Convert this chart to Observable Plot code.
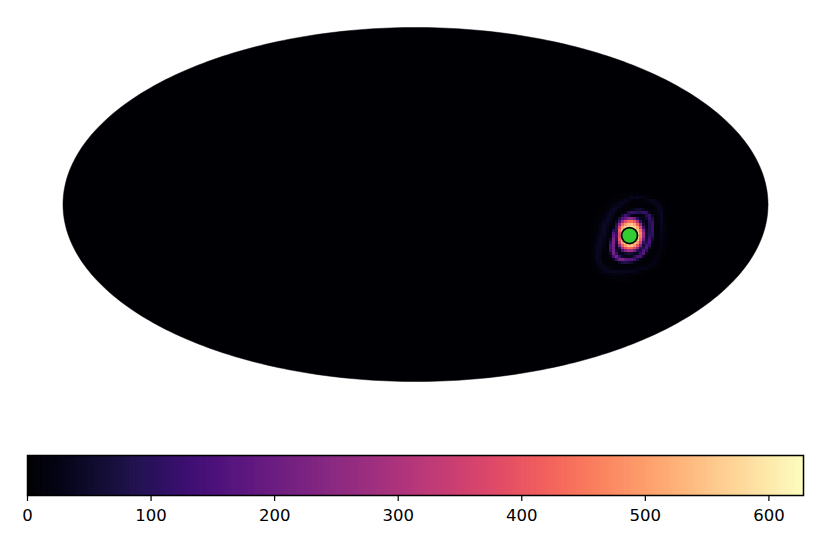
<!DOCTYPE html>
<html><head><meta charset="utf-8">
<script src="https://cdn.jsdelivr.net/npm/d3@7"></script>
<script src="https://cdn.jsdelivr.net/npm/@observablehq/plot@0.6"></script>
<style>html,body{margin:0;padding:0;background:#fff}svg{display:block}</style>
</head><body><div id="chart"></div>
<script>
const colorMax = 628;
const colorTicks = [0,100,200,300,400,500,600];
const sourceLon = [109.3];
const sourceLat = [-15.8];
const patchCols = 26, patchRows = 30;
const patchLon = [89.36,129.2];
const patchLat = [6.1,-39.66];
const patchValues = [
0,0,0,0,0,0,1,3,4,6,5,8,10,14,12,15,11,9,6,5,2,1,0,0,0,0,
0,0,0,0,1,2,3,4,5,9,12,18,22,30,26,34,28,24,18,12,7,3,1,1,0,0,
0,0,0,1,2,3,4,7,11,18,26,34,26,18,12,12,11,16,22,28,36,28,16,6,2,1,
0,0,1,2,3,5,8,13,20,32,38,24,12,7,6,7,6,8,10,14,22,34,30,14,5,2,
0,1,2,3,5,10,18,30,38,32,18,9,6,7,10,12,12,9,7,8,10,20,36,24,8,2,
1,2,3,4,8,16,28,40,34,16,9,10,12,20,35,50,55,38,18,10,8,13,32,30,9,3,
1,2,3,5,12,25,40,36,14,8,12,30,85,125,110,90,95,120,95,35,10,10,28,36,12,4,
2,3,4,8,18,34,40,24,9,10,65,135,90,30,18,14,18,30,85,125,40,9,20,38,14,5,
2,3,5,12,26,40,36,16,8,70,155,190,250,260,210,100,35,25,55,125,75,13,14,38,16,5,
3,4,8,18,34,40,28,12,35,145,280,380,430,440,400,290,110,30,22,100,105,12,13,36,18,6,
4,5,10,24,40,36,18,10,80,260,420,500,540,550,510,420,260,60,20,85,120,12,11,34,18,6,
5,6,12,28,42,32,14,22,120,370,510,560,590,600,570,510,370,130,25,85,125,14,10,32,18,7,
5,8,15,32,42,26,12,90,100,420,540,590,610,615,595,545,440,230,40,85,125,14,10,30,18,8,
7,9,18,34,40,22,10,165,110,390,545,600,615,620,605,560,470,270,55,90,110,14,9,28,18,8,
8,10,20,36,38,18,16,190,120,390,545,600,615,620,605,560,460,260,55,110,95,13,9,26,16,7,
9,12,24,40,34,14,50,220,100,410,535,590,610,610,595,540,420,200,60,140,55,12,10,24,14,6,
10,14,28,40,28,12,100,225,65,350,500,555,590,580,555,500,350,115,90,150,30,10,10,22,12,5,
11,16,32,38,24,11,135,215,42,240,410,500,540,540,500,400,240,60,140,115,16,9,12,20,10,4,
11,20,36,34,18,10,145,205,32,95,290,390,440,430,370,270,95,95,150,55,10,9,15,18,8,3,
10,22,36,30,15,10,115,215,60,38,150,240,290,280,220,95,65,160,100,22,8,11,16,14,6,3,
10,22,38,28,12,10,60,215,125,30,30,50,75,62,38,38,125,170,38,10,8,14,20,12,5,2,
8,20,38,26,10,10,22,145,215,115,42,28,24,36,80,155,150,46,12,8,9,18,20,8,4,2,
6,18,36,28,11,9,12,34,125,215,225,185,165,170,140,70,20,9,8,8,14,22,16,6,3,1,
5,12,30,32,14,9,8,9,16,44,75,85,70,50,25,10,8,7,8,12,20,22,11,4,2,1,
4,8,20,34,24,14,9,7,8,9,11,11,10,9,9,9,10,11,14,20,24,14,6,3,1,0,
2,5,12,26,34,28,20,13,12,12,14,15,16,18,20,22,24,26,24,18,10,4,2,1,0,0,
1,3,6,14,24,34,36,34,30,32,32,36,34,32,28,20,14,10,6,3,2,1,0,0,0,0,
0,2,4,7,10,12,18,22,24,22,22,18,16,12,9,7,5,3,2,1,0,0,0,0,0,0,
0,0,1,2,4,5,7,8,10,9,8,7,5,4,3,2,1,1,0,0,0,0,0,0,0,0,
0,0,0,0,1,2,4,7,10,12,13,11,8,5,3,2,1,0,0,0,0,0,0,0,0,0
];

const colorScale = {type:"linear", scheme:"magma", domain:[0,colorMax]};
const outline = d3.range(0,361,1).map(a => ({x:180*Math.cos(a*Math.PI/180), y:90*Math.sin(a*Math.PI/180)}));

const map = Plot.plot({
  width:830, height:420, margin:0,
  style:{background:"transparent"},
  x:{domain:[-180,180], range:[62.5,767.5], axis:null},
  y:{domain:[-90,90], range:[381,27], axis:null},
  color:colorScale,
  marks:[
    Plot.line(outline,{x:"x",y:"y",fill:"#000004",stroke:"#000004",strokeWidth:0.5}),
    Plot.raster(patchValues,{width:patchCols,height:patchRows,x1:patchLon[0],x2:patchLon[1],y1:patchLat[0],y2:patchLat[1],imageRendering:"pixelated"}),
    Plot.dot(sourceLon.map((x,i)=>({x,y:sourceLat[i]})),{x:"x",y:"y",r:8,fill:"#32cd32",stroke:"black",strokeWidth:1.7})
  ]
});

const steps = d3.range(0,256).map(i => i/256*colorMax);
const bar = Plot.plot({
  width:830, height:134,
  marginTop:35, marginBottom:59, marginLeft:27, marginRight:27,
  style:{background:"transparent", fontFamily:"'DejaVu Sans'", color:"#000"},
  x:{domain:[0,colorMax], axis:null},
  y:{domain:[0,1], axis:null},
  color:colorScale,
  marks:[
    Plot.rect(steps,{x1:d=>d,x2:d=>d+colorMax/256+0.6,y1:0,y2:1,fill:d=>d,clip:true}),
    Plot.frame({stroke:"#000",strokeWidth:1.5}),
    Plot.axisX(colorTicks,{tickSize:6,tickFormat:()=>"",stroke:"#000",strokeWidth:1.2,label:null}),
    Plot.text(colorTicks,{x:d=>d,text:d=>String(d),frameAnchor:"bottom",lineAnchor:"top",dy:14,fontSize:16.5,fill:"#000"})
  ]
});
document.getElementById("chart").append(map,bar);
</script></body></html>
